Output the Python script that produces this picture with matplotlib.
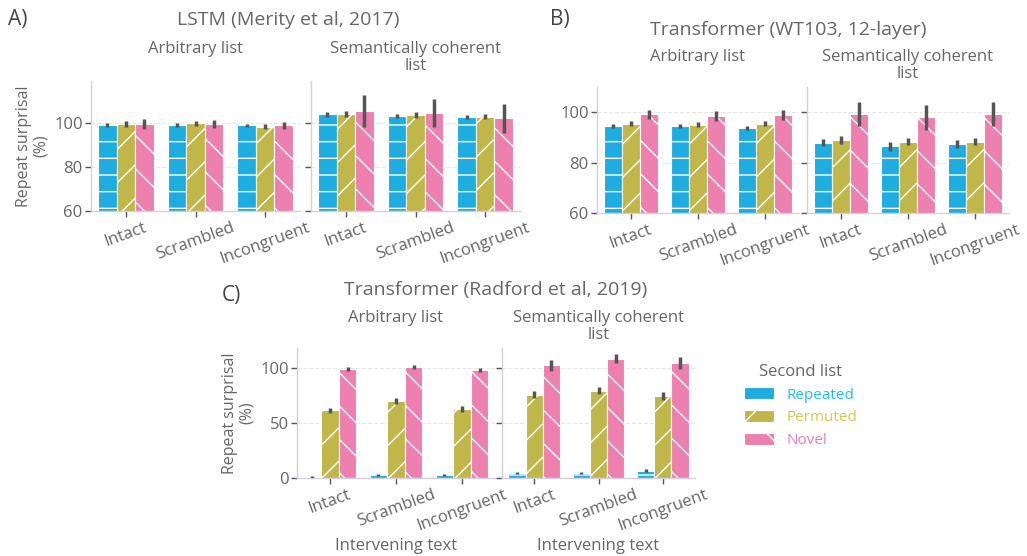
import matplotlib.pyplot as plt
import matplotlib.patches as mpatches
import numpy as np

# chart values (rows: Repeated, Permuted, Novel; columns: Intact, Scrambled, Incongruent)
conditions = ["Intact", "Scrambled", "Incongruent"]
second_list = ["Repeated", "Permuted", "Novel"]

lstm_arb_mean = [[99.4, 99.4, 99.1], [99.7, 100.0, 98.5], [99.7, 99.7, 99.1]]
lstm_arb_err = [[0.9, 0.8, 0.6], [1.4, 1.3, 1.2], [2.2, 2.0, 1.5]]
lstm_sem_mean = [[104.2, 103.4, 102.8], [104.3, 103.8, 103.1], [105.8, 104.9, 102.3]]
lstm_sem_err = [[1.2, 1.0, 0.9], [1.3, 1.3, 1.0], [7.2, 6.3, 6.5]]

wt103_arb_mean = [[94.6, 94.6, 93.9], [95.4, 95.1, 95.5], [99.1, 98.5, 98.9]]
wt103_arb_err = [[0.8, 0.8, 0.8], [1.0, 1.0, 1.0], [1.7, 1.9, 1.8]]
wt103_sem_mean = [[87.9, 86.4, 87.2], [88.9, 88.3, 88.3], [99.3, 97.9, 99.2]]
wt103_sem_err = [[1.4, 1.8, 1.6], [1.6, 1.3, 1.3], [4.9, 5.0, 4.7]]

gpt2_arb_mean = [[0.9, 2.7, 2.7], [61.5, 70.0, 62.7], [99.4, 100.9, 98.5]]
gpt2_arb_err = [[0.5, 0.5, 0.6], [2.0, 2.4, 2.4], [1.8, 1.5, 1.8]]
gpt2_sem_mean = [[4.5, 4.5, 6.7], [75.8, 79.4, 74.8], [102.4, 108.5, 104.5]]
gpt2_sem_err = [[1.0, 1.0, 1.2], [3.3, 3.0, 3.6], [4.8, 4.2, 5.5]]

subtitles = ["Arbitrary list", "Semantically coherent\nlist"]

bar_colors = ["#1fade0", "#c0b64a", "#ee80b0"]
text_colors = ["#1cc0f6", "#d6c94a", "#f27ab4"]
hatches = ["-", "/", "\\"]
grey = "#666666"
spine_col = "#d2cfe0"

plt.rcParams['font.family'] = ['Open Sans', 'DejaVu Sans']
plt.rcParams['hatch.linewidth'] = 1.0
plt.rcParams['text.color'] = grey

W, H = 1027, 556
fig = plt.figure(figsize=(W / 100, H / 100), dpi=100)


def rect(x0, x1, ytop, ybot):
    # pixel box -> figure fraction
    return [x0 / W, 1 - ybot / H, (x1 - x0) / W, (ybot - ytop) / H]


def fig_text(px, py, s, **kw):
    fig.text(px / W, 1 - py / H, s, **kw)


def draw_axes(ax, means, errs, ylim, yticks, show_ylabels):
    w = 0.8 / 3
    x = np.arange(len(conditions))
    for j in range(3):
        xs = x + (j - 1) * w
        ax.bar(xs, means[j], w, color=bar_colors[j], hatch=hatches[j],
               edgecolor="white", linewidth=0.8, zorder=2)
        ax.errorbar(xs, means[j], yerr=errs[j], fmt="none", ecolor="#555555",
                    elinewidth=2.5, capsize=0, zorder=3)
    ax.set_xlim(-0.5, 2.5)
    ax.set_ylim(*ylim)
    ax.set_yticks(yticks)
    ax.set_xticks(x)
    ax.set_xticklabels(conditions, rotation=20, ha="center", color=grey, fontsize=12)
    if show_ylabels:
        ax.set_yticklabels([str(t) for t in yticks], color=grey, fontsize=12)
    else:
        ax.set_yticklabels([])
    ax.grid(axis="y", color="#e6e6e6", linestyle="--", linewidth=0.8, zorder=0)
    for s in ["top", "right"]:
        ax.spines[s].set_visible(False)
    for s in ["left", "bottom"]:
        ax.spines[s].set_color(spine_col)
        ax.spines[s].set_linewidth(1.0)
    ax.tick_params(length=4, color="#555555", width=1, pad=2)
    ax.set_axisbelow(True)


def draw_panel(boxes, data, ylim, yticks, ylabel, xlabel, sub_y):
    axes = []
    for k, (box, (m, e)) in enumerate(zip(boxes, data)):
        ax = fig.add_axes(rect(*box))
        draw_axes(ax, m, e, ylim, yticks, k == 0)
        if xlabel:
            ax.set_xlabel(xlabel, color=grey, fontsize=12, labelpad=3)
        # facet title above each axes
        fig_text((box[0] + box[1]) / 2, sub_y, subtitles[k], fontsize=12, ha="center",
                 va="top", linespacing=1.05, color=grey)
        axes.append(ax)
    if ylabel:
        axes[0].set_ylabel(ylabel, color=grey, fontsize=11.5, linespacing=1.0)
    return axes


# Panel A
axA = draw_panel([(91, 300, 81, 211), (311, 520, 81, 211)],
                 [(lstm_arb_mean, lstm_arb_err), (lstm_sem_mean, lstm_sem_err)],
                 (60, 119.4), [60, 80, 100], "Repeat surprisal\n(%)", None, 41)
# Panel B
axB = draw_panel([(597, 799, 87, 213), (807, 1009, 87, 213)],
                 [(wt103_arb_mean, wt103_arb_err), (wt103_sem_mean, wt103_sem_err)],
                 (60, 110), [60, 80, 100], None, None, 49)
# Panel C
axC = draw_panel([(297, 495, 348, 478), (502, 695, 348, 478)],
                 [(gpt2_arb_mean, gpt2_arb_err), (gpt2_sem_mean, gpt2_sem_err)],
                 (0, 118.3), [0, 50, 100], "Repeat surprisal\n(%)", "Intervening text", 310)

# panel letters and titles
fig_text(8, 20, "A)", fontsize=15, va="center", color="#444444")
fig_text(550, 20, "B)", fontsize=15, va="center", color="#444444")
fig_text(222, 296, "C)", fontsize=15, va="center", color="#444444")

fig_text(288, 20, "LSTM (Merity et al, 2017)", fontsize=14, ha="center", va="center")
fig_text(788, 30, "Transformer (WT103, 12-layer)", fontsize=14, ha="center", va="center")
fig_text(496, 290, "Transformer (Radford et al, 2019)", fontsize=14, ha="center", va="center")

# legend (the Repeated swatch shows as a plain block in the reference)
handles = [mpatches.Patch(facecolor=c, hatch=(h if i > 0 else None), edgecolor="white",
                          linewidth=0.8)
           for i, (c, h) in enumerate(zip(bar_colors, hatches))]
leg = fig.legend(handles, second_list, title="Second list", loc="upper left",
                 bbox_to_anchor=(730 / W, 1 - 350 / H), frameon=False, fontsize=11,
                 title_fontsize=12, handlelength=2.0, handleheight=0.8, labelspacing=0.5)
leg.get_title().set_color(grey)
for t, c in zip(leg.get_texts(), text_colors):
    t.set_color(c)

fig.savefig("out.png", dpi=100)
